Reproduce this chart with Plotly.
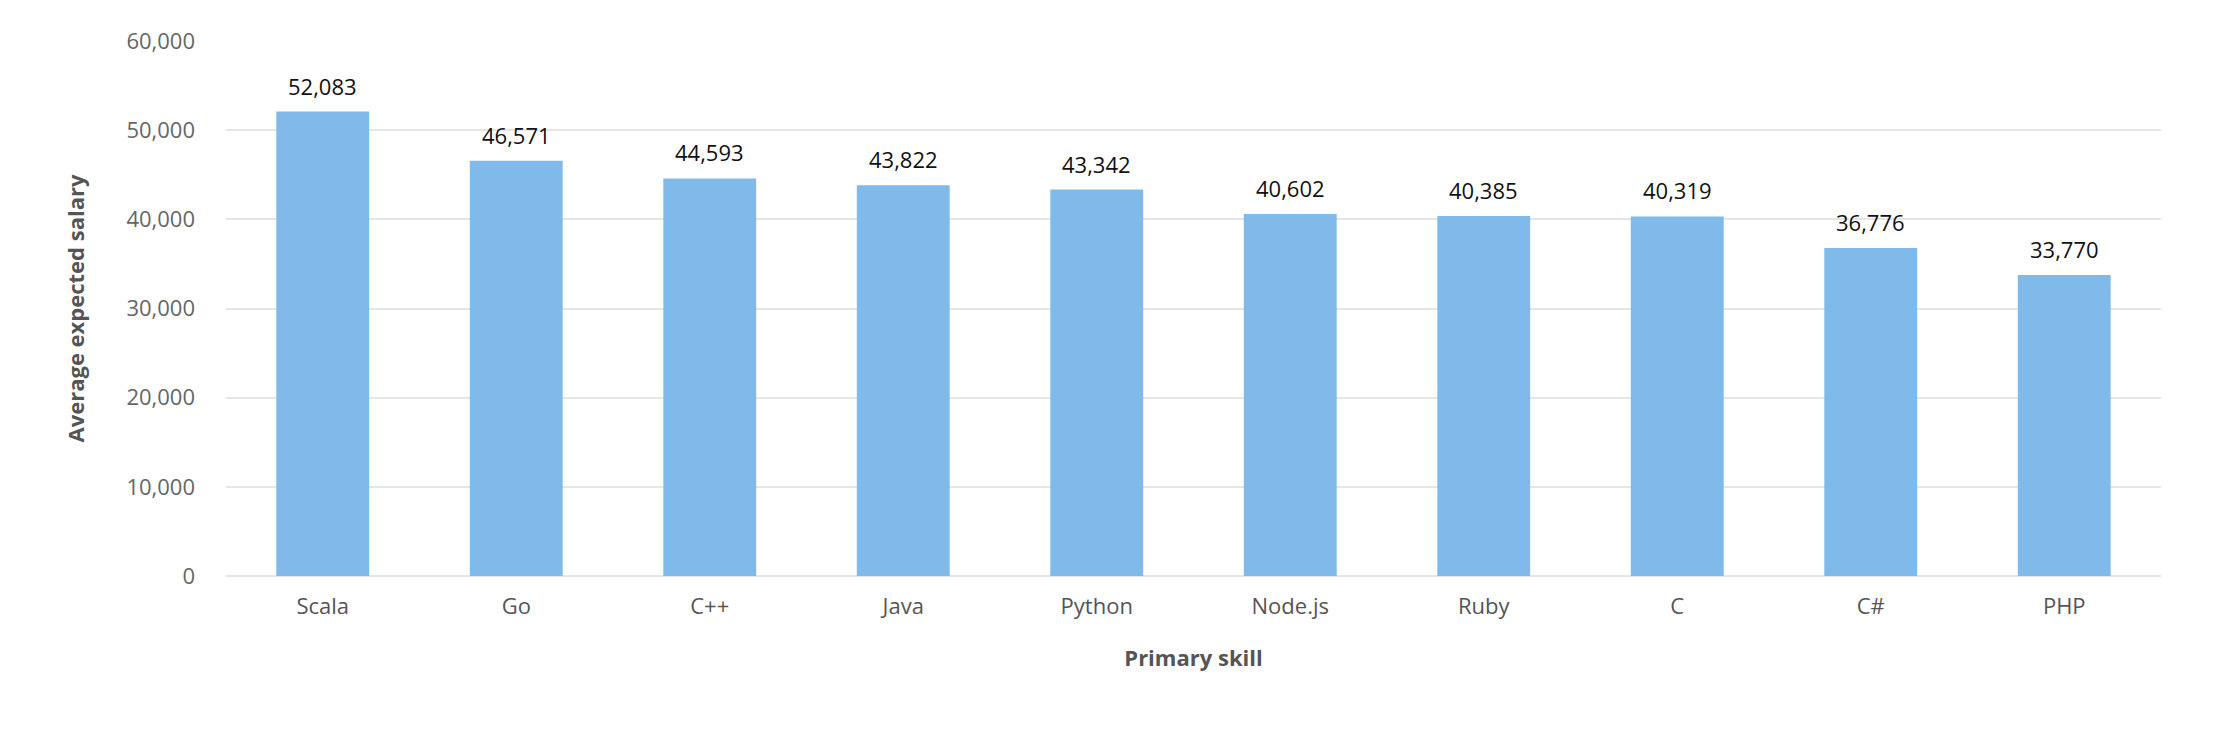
import plotly.graph_objects as go

skills = ["Scala", "Go", "C++", "Java", "Python", "Node.js", "Ruby", "C", "C#", "PHP"]
salaries = [52083, 46571, 44593, 43822, 43342, 40602, 40385, 40319, 36776, 33770]

bar_color = "#7fbaea"
font_family = "Open Sans, sans-serif"

fig = go.Figure()
fig.add_trace(go.Bar(
    x=skills,
    y=salaries,
    marker=dict(color=bar_color, line=dict(width=0)),
    hoverinfo="skip",
))

# value labels sitting above each bar
for s, v in zip(skills, salaries):
    fig.add_annotation(
        x=s, y=v, text=f"{v:,}",
        showarrow=False, yanchor="bottom", yshift=9,
        font=dict(family=font_family, size=22, color="#111111"),
    )

fig.update_layout(
    width=2230,
    height=738,
    margin=dict(l=218, r=77, t=33, b=170),
    paper_bgcolor="white",
    plot_bgcolor="white",
    bargap=0.52,
    showlegend=False,
    font=dict(family=font_family, size=22, color="#666666"),
)

fig.update_xaxes(
    title=dict(text="<b>Primary skill</b>", font=dict(size=22, color="#555555"), standoff=31),
    tickfont=dict(size=22, color="#555555"),
    showline=False,
    ticks="",
    ticklabelstandoff=15,
)

fig.update_yaxes(
    title=dict(text="<b>Average expected salary</b>", font=dict(size=22, color="#555555"), standoff=35),
    range=[0, 60000],
    dtick=10000,
    tickformat=",d",
    tickfont=dict(size=22, color="#666666"),
    showgrid=True,
    gridcolor="#e6e6e6",
    gridwidth=2,
    zeroline=True,
    zerolinecolor="#e6e6e6",
    zerolinewidth=2,
    ticks="",
    ticklabelstandoff=30,
)

fig.write_html("out.html")
